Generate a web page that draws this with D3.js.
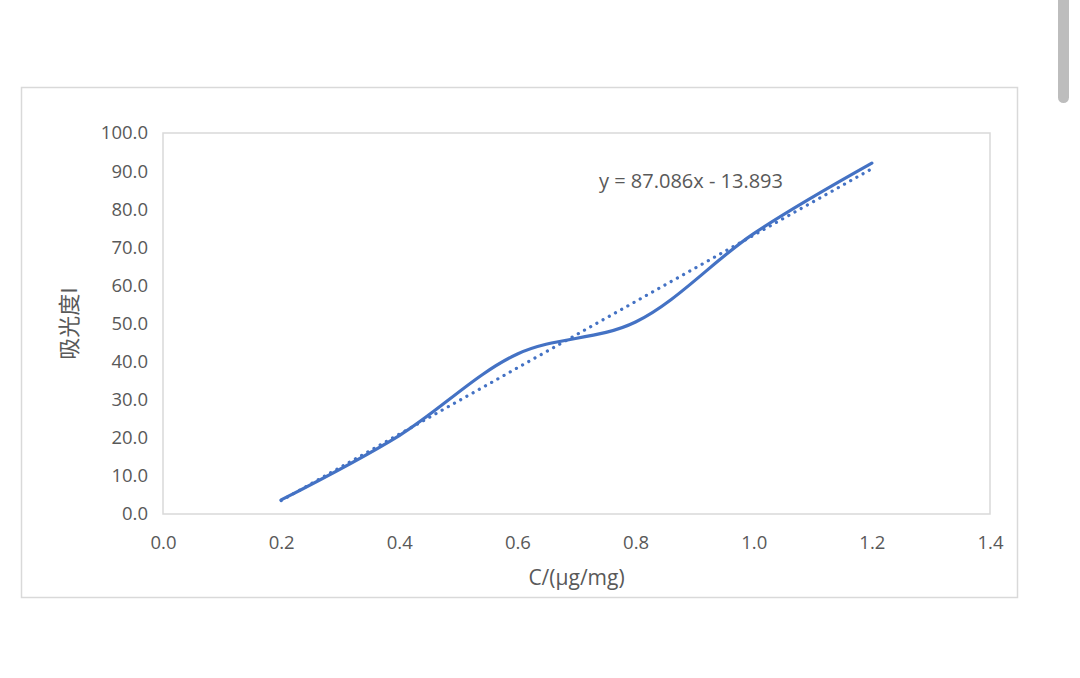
<!DOCTYPE html>
<html>
<head>
<meta charset="utf-8">
<script src="https://cdn.jsdelivr.net/npm/d3@7"></script>
<style>
  html, body { margin: 0; padding: 0; background: #fff; }
  svg { display: block; font-family: "Open Sans", "Noto Sans", sans-serif; }
  .tick-label { fill: #595959; font-size: 18.5px; }
  .eq-label { fill: #595959; font-size: 20px; }
  .axis-title { fill: #595959; font-size: 21px; }
</style>
</head>
<body>
<div id="chart"></div>
<script>
/* ── data ── */
const concentrations = [0.2, 0.4, 0.6, 0.8, 1.0, 1.2];
const absorbance     = [3.7, 20.6, 42.0, 50.4, 73.6, 92.1];
const trendSlope     = 87.086;
const trendIntercept = -13.893;
const xTicks = [0, 0.2, 0.4, 0.6, 0.8, 1.0, 1.2, 1.4];
const yTicks = [0, 10, 20, 30, 40, 50, 60, 70, 80, 90, 100];

const W = 1080, H = 678;
const PLOT = { left: 163, top: 133, right: 990, bottom: 514 };
const BLUE = '#4472c4';

const svg = d3.select('#chart').append('svg')
    .attr('width', W).attr('height', H);

/* scrollbar thumb from the screenshot */
svg.append('rect')
    .attr('x', 1058).attr('y', -10).attr('width', 11).attr('height', 113)
    .attr('rx', 5.5).attr('fill', '#bdbdbd');

/* outer chart frame */
svg.append('rect')
    .attr('x', 21.5).attr('y', 87.5).attr('width', 996).attr('height', 510)
    .attr('fill', '#fff').attr('stroke', '#d9d9d9').attr('stroke-width', 1.5);

const x = d3.scaleLinear().domain([0, 1.4]).range([PLOT.left, PLOT.right]);
const y = d3.scaleLinear().domain([0, 100]).range([PLOT.bottom, PLOT.top]);

/* plot area border */
svg.append('rect')
    .attr('x', PLOT.left).attr('y', PLOT.top)
    .attr('width', PLOT.right - PLOT.left).attr('height', PLOT.bottom - PLOT.top)
    .attr('fill', 'none').attr('stroke', '#d9d9d9').attr('stroke-width', 1.5);

/* axes: labels only */
const xAxis = svg.append('g')
    .attr('transform', `translate(0,${PLOT.bottom})`)
    .call(d3.axisBottom(x).tickValues(xTicks).tickFormat(d3.format('.1f')).tickSize(0).tickPadding(22));
const yAxis = svg.append('g')
    .attr('transform', `translate(${PLOT.left},0)`)
    .call(d3.axisLeft(y).tickValues(yTicks).tickFormat(d3.format('.1f')).tickSize(0).tickPadding(15));
[xAxis, yAxis].forEach(g => {
    g.select('.domain').remove();
    g.selectAll('text').attr('class', 'tick-label').attr('font-family', null).attr('font-size', null).attr('fill', null);
    g.attr('font-family', null).attr('font-size', null);
});

/* linear trendline (dotted) */
const [x0, x1] = d3.extent(concentrations);
svg.append('line')
    .attr('x1', x(x0)).attr('y1', y(trendSlope * x0 + trendIntercept))
    .attr('x2', x(x1)).attr('y2', y(trendSlope * x1 + trendIntercept))
    .attr('stroke', BLUE).attr('stroke-width', 3.2)
    .attr('stroke-linecap', 'round').attr('stroke-dasharray', '0.1 7');

/* smoothed series line */
const pts = concentrations.map((c, i) => [c, absorbance[i]]);
svg.append('path')
    .datum(pts)
    .attr('fill', 'none').attr('stroke', BLUE).attr('stroke-width', 3.2)
    .attr('stroke-linecap', 'round')
    .attr('d', d3.line().x(d => x(d[0])).y(d => y(d[1])).curve(d3.curveCatmullRom.alpha(0.5)));

/* equation label */
svg.append('text')
    .attr('class', 'eq-label')
    .attr('x', 691).attr('y', 188)
    .attr('text-anchor', 'middle')
    .text(`y = ${trendSlope}x - ${Math.abs(trendIntercept)}`);

/* axis titles */
svg.append('text')
    .attr('class', 'axis-title')
    .attr('x', (PLOT.left + PLOT.right) / 2).attr('y', 585)
    .attr('text-anchor', 'middle')
    .text('C/(μg/mg)');

svg.append('text')
    .attr('class', 'axis-title')
    .attr('transform', `translate(77,${(PLOT.top + PLOT.bottom) / 2}) rotate(-90)`)
    .attr('text-anchor', 'middle')
    .style('font-family', '"Noto Sans CJK SC", "Open Sans", sans-serif')
    .style('font-size', '22px')
    .text('吸光度I');
</script>
</body>
</html>
